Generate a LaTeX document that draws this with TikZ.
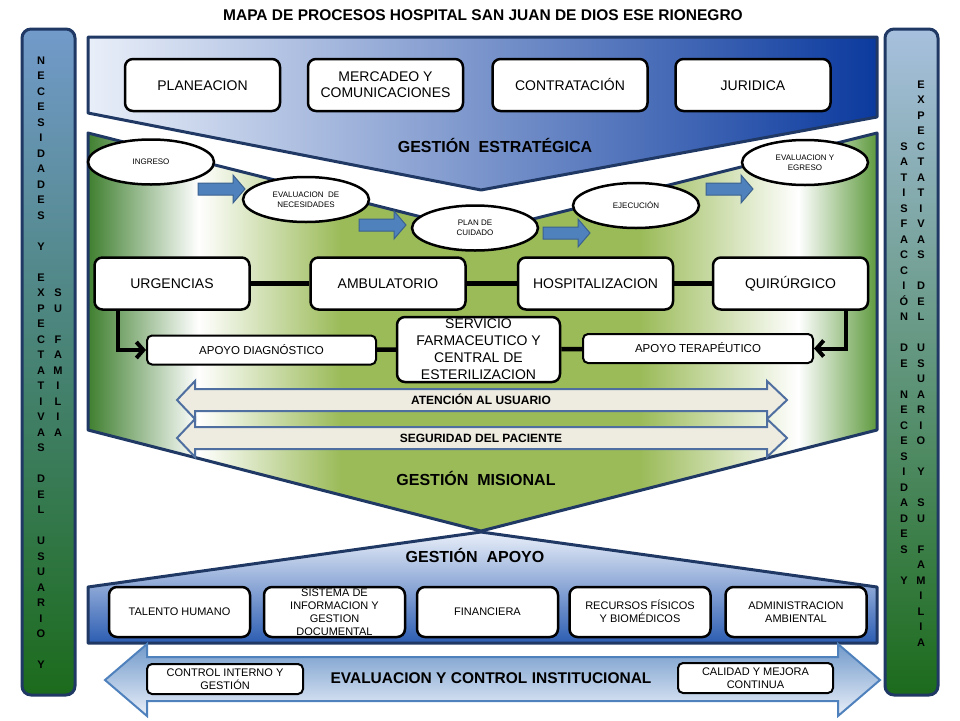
\documentclass[tikz,border=0pt]{standalone}
\usepackage{fontspec}
\setmainfont{Liberation Sans}
\usetikzlibrary{shapes.geometric,arrows.meta}

\definecolor{marino}{HTML}{1F3864}
\definecolor{azulosc}{HTML}{0B3A9E}
\definecolor{azulcla}{HTML}{E9EFF9}
\definecolor{azulmed}{HTML}{B3C6E8}
\definecolor{oliva}{HTML}{9BBB59}
\definecolor{verdeosc}{HTML}{3F7F2F}
\definecolor{verdemed}{HTML}{5E9A3E}
\definecolor{verdebar}{HTML}{1C6B1C}
\definecolor{olivabar}{HTML}{9CB96C}
\definecolor{beige}{HTML}{EEECE1}
\definecolor{acero}{HTML}{4F6FA0}
\definecolor{flechazul}{HTML}{4F81BD}
\definecolor{celeste}{HTML}{A7C9EF}
\definecolor{azulapoyo}{HTML}{2C5DB2}

\pgfdeclarehorizontalshading{misional}{100bp}{color(0bp)=(verdeosc); color(25bp)=(verdeosc); color(32bp)=(white); color(41bp)=(oliva); color(60bp)=(oliva); color(70bp)=(white); color(75bp)=(verdemed); color(100bp)=(verdemed)}

\begin{document}
\begin{tikzpicture}[x=1pt,y=-1pt,
  borde/.style={draw=marino,line width=3pt,line join=round},
  barra/.style={draw=marino,line width=3pt,rounded corners=9pt},
  caja/.style={draw,fill=white,line width=2.5pt,rounded corners=8pt,minimum width=155pt,minimum height=52pt,align=center,font=\fontsize{14}{16}\selectfont},
  cajita/.style={draw,fill=white,line width=2pt,rounded corners=5pt,minimum height=29pt,align=center,font=\fontsize{11.5}{13}\selectfont},
  apoyo/.style={caja,minimum width=141pt,minimum height=50pt,inner sep=0pt,font=\fontsize{11}{13}\selectfont},
  elipse/.style={ellipse,draw,fill=white,line width=2.5pt,minimum width=126pt,minimum height=45pt,align=center,inner sep=0pt,font=\fontsize{8}{9.5}\selectfont},
  recto/.style={text height=#1,text depth=0pt},
  flecha/.style={draw=flechazul!75!black,fill=flechazul,line width=1pt},
  banda/.style={draw=acero,fill=beige,line width=2pt},
  linea/.style={line width=4.5pt},
  gestion/.style={font=\bfseries\fontsize{16}{18}\selectfont},
  letra/.style={inner sep=0pt,text height=8pt,text depth=0pt,font=\bfseries\fontsize{11}{13}\selectfont}]

\useasboundingbox (0,0) rectangle (960,720);

\node[font=\bfseries\fontsize{15.5}{18}\selectfont] (titulo) at (483,15) {MAPA DE PROCESOS HOSPITAL SAN JUAN DE DIOS ESE RIONEGRO};

\draw[barra,top color=flechazul!80!white,middle color=olivabar,bottom color=verdebar] (22,29) rectangle (75,695);
\draw[barra,top color=flechazul!50!white,middle color=olivabar,bottom color=verdebar] (885,29) rectangle (938,695);

\foreach \l [count=\i] in {N,E,C,E,S,I,D,A,D,E,S,{},Y,{},E,X,P,E,C,T,A,T,I,V,A,S,{},D,E,L,{},U,S,U,A,R,I,O,{},Y}
  \node[letra] (izqa\i) at (41,60+15.5*\i-15.5) {\l};
\foreach \l [count=\i] in {S,U,{},F,A,M,I,L,I,A}
  \node[letra] (izqb\i) at (58,60+15.5*\i+217) {\l};
\foreach \l [count=\i] in {S,A,T,I,S,F,A,C,C,I,Ó,N,{},D,E,{},N,E,C,E,S,I,D,A,D,E,S,{},Y}
  \node[letra] (dera\i) at (904,84+15.5*\i+46.5) {\l};
\foreach \l [count=\i] in {E,X,P,E,C,T,A,T,I,V,A,S,{},D,E,L,{},U,S,U,A,R,I,O,{},Y,{},S,U,{},F,A,M,I,L,I,A}
  \node[letra] (derb\i) at (921,84+15.5*\i-15.5) {\l};

\draw[borde,left color=azulcla,middle color=azulmed,right color=azulosc] (88,37) -- (877,37) -- (877,117) -- (481,190) -- (88,113) -- cycle;
\draw[borde,shade,shading=misional] (88,133) -- (481,232) -- (877,133) -- (877,430) -- (481,531) -- (88,430) -- cycle;
\draw[borde,top color=azulcla,middle color=celeste,bottom color=azulapoyo] (481,532) -- (877,587) -- (877,643) -- (88,643) -- (88,587) -- cycle;
\draw[draw=flechazul,line width=2pt,top color=flechazul!80!white,bottom color=azulcla] (105,680) -- (147,644) -- (147,657) -- (838,657) -- (838,644) -- (880,680) -- (838,716) -- (838,701) -- (147,701) -- (147,716) -- cycle;

\node[caja,recto=10pt] (planeacion) at (202.5,85) {PLANEACION};
\node[caja] (mercadeo) at (385.5,85) {MERCADEO Y\\COMUNICACIONES};
\node[caja,recto=10pt] (contratacion) at (570,85) {CONTRATACIÓN};
\node[caja,recto=10pt] (juridica) at (753,85) {JURIDICA};
\node[gestion] (estrategica) at (495,145) {GESTIÓN\ \ ESTRATÉGICA};

\foreach \y/\t [count=\i] in {400/ATENCIÓN AL USUARIO,438/SEGURIDAD DEL PACIENTE}{
  \draw[banda] (177,\y) -- (195,\y-19) -- (195,\y-11) -- (767,\y-11) -- (767,\y-19) -- (787,\y) -- (767,\y+19) -- (767,\y+11) -- (195,\y+11) -- (195,\y+19) -- cycle;
  \node[recto=8.6pt,font=\bfseries\fontsize{12}{14}\selectfont] (banda\i) at (481,\y) {\t};
}

\foreach \x/\y in {198/189,359/225,543/233,706/189}
  \draw[flecha] (\x,\y-6) -- ++(35,0) -- ++(0,-8) -- ++(12,14) -- ++(-12,14) -- ++(0,-8) -- ++(-35,0) -- cycle;

\node[elipse,recto=5.7pt] (ingreso) at (151,162) {INGRESO};
\node[elipse] (necesidades) at (306,199.5) {EVALUACION\ \ DE\\NECESIDADES};
\node[elipse] (plan) at (475,228) {PLAN DE\\CUIDADO};
\node[elipse,recto=5.7pt] (ejecucion) at (636,205.5) {EJECUCIÓN};
\node[elipse] (egreso) at (805,162.5) {EVALUACION Y\\EGRESO};

\node[caja,recto=10pt] (urgencias) at (172,283.5) {URGENCIAS};
\node[caja,recto=10pt] (ambulatorio) at (388,283.5) {AMBULATORIO};
\node[caja,recto=10pt] (hospitalizacion) at (595.5,283.5) {HOSPITALIZACION};
\node[caja,recto=10pt] (quirurgico) at (790.5,283.5) {QUIRÚRGICO};
\node[cajita,recto=8.2pt,minimum width=229pt] (diagnostico) at (261.5,350) {APOYO DIAGNÓSTICO};
\node[caja,minimum width=163pt,minimum height=65pt,inner sep=0pt,font=\fontsize{14}{17}\selectfont] (farmacia) at (478.5,349.5) {SERVICIO\\FARMACEUTICO Y\\CENTRAL DE\\ESTERILIZACION};
\node[cajita,recto=8.2pt,minimum width=230pt] (terapeutico) at (698,348.5) {APOYO TERAPÉUTICO};

\path[linea]
  (urgencias) edge (ambulatorio)
  (ambulatorio) edge (hospitalizacion)
  (hospitalizacion) edge (quirurgico)
  (diagnostico) edge (farmacia)
  (farmacia) edge (terapeutico)
;
\draw[line width=4pt,-{Straight Barb[length=7pt,width=16pt]}] ([xshift=-54pt]urgencias.south) |- (diagnostico.west);
\draw[line width=4pt,-{Straight Barb[length=7pt,width=16pt]}] ([xshift=55pt]quirurgico.south) |- (terapeutico.east);

\node[gestion] (misional) at (476,478) {GESTIÓN\ \ MISIONAL};
\node[gestion] (apoyo) at (475,555) {GESTIÓN\ \ APOYO};

\node[apoyo,recto=7.9pt] (talento) at (179.5,612) {TALENTO HUMANO};
\node[apoyo] (sistema) at (334.5,612) {SISTEMA DE\\INFORMACION Y\\GESTION\\DOCUMENTAL};
\node[apoyo,recto=7.9pt] (financiera) at (487.5,612) {FINANCIERA};
\node[apoyo] (recursos) at (640,612) {RECURSOS F\smash{Í}SICOS\\Y BIOMÉDICOS};
\node[apoyo] (ambiental) at (796,612) {ADMINISTRACION\\AMBIENTAL};

\node[cajita,minimum width=156pt,minimum height=30pt,inner sep=0pt,font=\fontsize{11}{12.5}\selectfont] (control) at (225,679) {CONTROL INTERNO Y\\GESTIÓN};
\node[cajita,minimum width=155pt,minimum height=30pt,inner sep=0pt,font=\fontsize{11}{12.5}\selectfont] (calidad) at (755.5,678) {CALIDAD Y MEJORA\\CONTINUA};
\node[gestion,font=\bfseries\fontsize{15.5}{18}\selectfont] (evaluacion) at (491,678) {EVALUACION Y CONTROL INSTITUCIONAL};

\end{tikzpicture}
\end{document}
